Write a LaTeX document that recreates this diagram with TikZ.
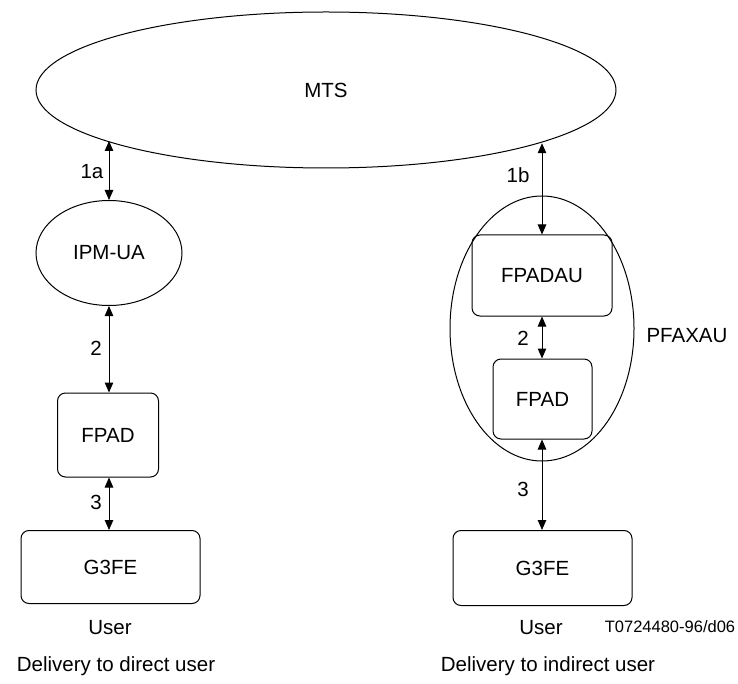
\documentclass[tikz,border=0pt]{standalone}
\usepackage{fontspec}
\setmainfont{Liberation Sans}
\usetikzlibrary{shapes.geometric,arrows.meta}
\begin{document}
\begin{tikzpicture}[x=1pt,y=-1pt,
  every node/.style={font=\fontsize{20.5}{24}\selectfont},
  ell/.style={draw,ellipse,line width=1pt,inner sep=0pt},
  rbox/.style={draw,rectangle,rounded corners=8pt,line width=1pt,inner sep=0pt},
  conn/.style={line width=1pt,{Triangle[length=10pt,width=8.5pt]}-{Triangle[length=10pt,width=8.5pt]}},
  lbl/.style={inner sep=0pt}]
\useasboundingbox (0,0) rectangle (738,684);
% nodes
\node[ell,minimum width=580,minimum height=156] (mts) at (326,90) {MTS};
\node[ell,minimum width=146,minimum height=105] (ipm) at (109,253) {IPM-UA};
\node[rbox,minimum width=101,minimum height=84] (fpadL) at (108,435) {FPAD};
\node[rbox,minimum width=179,minimum height=73] (g3L) at (110.5,567) {G3FE};
\node[lbl] (userL) at (110,628) {User};
\node[lbl] (delL) at (116,666) {Delivery to direct user};

\node[ell,minimum width=184,minimum height=265] (pfax) at (542,328.5) {};
\node[lbl] (pfaxl) at (687,336) {PFAXAU};
\node[rbox,minimum width=140,minimum height=81] (fpadau) at (542,275.5) {FPADAU};
\node[rbox,minimum width=99,minimum height=80] (fpadR) at (542.5,399) {FPAD};
\node[rbox,minimum width=179,minimum height=75] (g3R) at (542.5,568) {G3FE};
\node[lbl] (userR) at (541,628) {User};
\node[lbl,font=\fontsize{16.5}{20}\selectfont] (tref) at (670,627) {T0724480-96/d06};
\node[lbl] (delR) at (548,666) {Delivery to indirect user};

% connectors
\draw[conn] (ipm.north |- mts.193.5) -- (ipm.north);
\draw[conn] (ipm.south) -- (ipm.south |- fpadL.north);
\draw[conn] (ipm.south |- fpadL.south) -- (ipm.south |- g3L.north);
\draw[conn] (fpadau.north |- mts.346.5) -- (fpadau.north);
\draw[conn] (fpadau.south) -- (fpadau.south |- fpadR.north);
\draw[conn] (fpadau.south |- fpadR.south) -- (fpadau.south |- g3R.north);

% connector labels
\node[lbl] (l1a) at (92,172) {1a};
\node[lbl] (l2L) at (96,348) {2};
\node[lbl] (l3L) at (96,502) {3};
\node[lbl] (l1b) at (518,175) {1b};
\node[lbl] (l2R) at (523,338) {2};
\node[lbl] (l3R) at (523,489) {3};
\end{tikzpicture}
\end{document}
